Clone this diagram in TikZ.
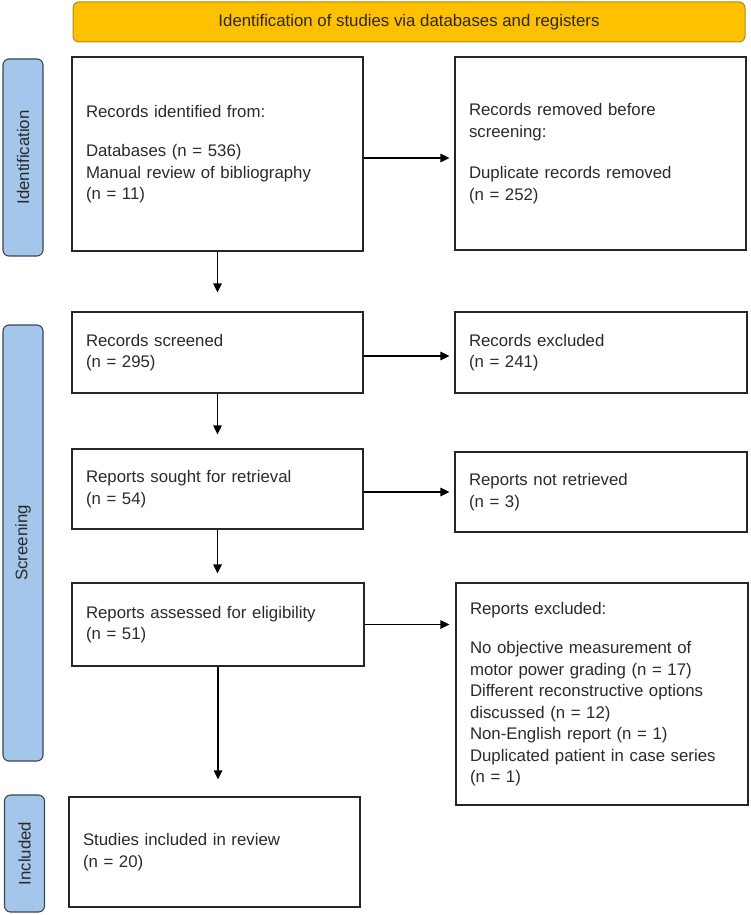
\documentclass[tikz,border=0pt]{standalone}
\usepackage{fontspec}
\setmainfont{Liberation Sans}
\usetikzlibrary{arrows.meta}
\definecolor{txt}{HTML}{2A2A2A}
\definecolor{boxline}{HTML}{262626}
\definecolor{bannerfill}{HTML}{FFC000}
\definecolor{bannerline}{HTML}{B08A1E}
\definecolor{sidefill}{HTML}{A3C6EA}
\definecolor{sideline}{HTML}{3C4650}
\newcommand{\fsz}{\fontsize{16.8}{21.5}\selectfont}
\tikzset{
  box/.style={draw=boxline, line width=1.2pt, align=left, inner xsep=14pt, inner ysep=0pt,
    anchor=center, font=\fsz, text=txt},
  banner/.style={draw=bannerline, fill=bannerfill, line width=1pt, rounded corners=6pt,
    inner sep=0pt, font=\fsz, text=txt},
  sidebar/.style={draw=sideline, fill=sidefill, line width=1.1pt, rounded corners=6pt,
    inner sep=0pt, rotate=90, minimum height=40pt, font=\fsz, text=txt},
  arr/.style={-{Triangle[length=9pt,width=8.5pt]}, line width=1.2pt, draw=black}
}
\begin{document}
\begin{tikzpicture}[x=1pt,y=-1pt]
\useasboundingbox (0,0) rectangle (750,915);

\node[banner, minimum width=672pt, minimum height=40pt] (ban) at (409,22)
  {Identification of studies via databases and registers};

\node[sidebar, minimum width=197pt] (s1) at (23,157.5) {Identification};
\node[sidebar, minimum width=436pt] (s2) at (23,543) {Screening};
\node[sidebar, minimum width=117pt] (s3) at (24.5,853.5) {Included};

\node[box, minimum width=291pt, minimum height=194pt, text width=263pt] (b1) at (217.5,154)
  {Records identified from:\\[18pt]Databases (n = 536)\\Manual review of bibliography\\(n = 11)};
\node[box, minimum width=291pt, minimum height=193pt, text width=263pt] (b2) at (600.5,153.5)
  {Records removed before\\screening:\\[20pt]Duplicate records removed\\(n = 252)};

\node[box, minimum width=291pt, minimum height=81pt, text width=263pt] (b3) at (217.5,352.5)
  {Records screened\\(n = 295)};
\node[box, minimum width=292pt, minimum height=81pt, text width=264pt] (b4) at (601,352.5)
  {Records excluded\\(n = 241)};

\node[box, minimum width=291pt, minimum height=80pt, text width=263pt] (b5) at (217.5,489)
  {Reports sought for retrieval\\(n = 54)};
\node[box, minimum width=292pt, minimum height=80pt, text width=264pt] (b6) at (601,492)
  {Reports not retrieved\\(n = 3)};

\node[box, minimum width=292pt, minimum height=83pt, text width=264pt] (b7) at (218,624.5)
  {Reports assessed for eligibility\\(n = 51)};
\node[box, minimum width=292pt, minimum height=222pt, text width=264pt] (b8) at (602,694)
  {Reports excluded:\\[18pt]No objective measurement of\\motor power grading (n = 17)\\Different reconstructive options\\discussed (n = 12)\\Non-English report (n = 1)\\Duplicated patient in case series\\(n = 1)};

\node[box, minimum width=291pt, minimum height=110pt, text width=263pt] (b9) at (214.5,852)
  {Studies included in review\\(n = 20)};

% horizontal arrows
\draw[arr, shorten >=5pt] ([yshift=-4pt]b1.east) -- ([yshift=-4pt]b1.east -| b2.west);
\draw[arr, shorten >=5pt] ([yshift=-3.5pt]b3.east) -- ([yshift=-3.5pt]b3.east -| b4.west);
\draw[arr, shorten >=5pt] ([yshift=-3pt]b5.east) -- ([yshift=-3pt]b5.east -| b6.west);
\draw[arr, shorten >=6pt] (b7.east) -- (b7.east -| b8.west);

% vertical arrows
\draw[arr, shorten >=19pt] (b1.south) -- (b1.south |- b3.north);
\draw[arr, shorten >=14pt] (b3.south) -- (b3.south |- b5.north);
\draw[arr, shorten >=9pt] (b5.south) -- (b5.south |- b7.north);
\draw[arr, shorten >=17pt] (b7.south) -- (b7.south |- b9.north);
\end{tikzpicture}
\end{document}
